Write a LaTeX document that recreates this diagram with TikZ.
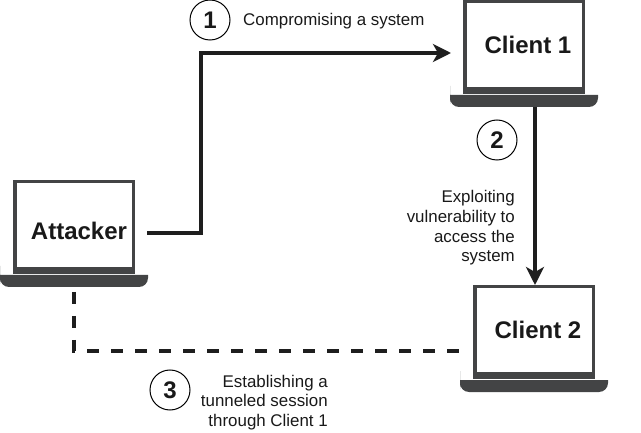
\documentclass[tikz,border=0pt]{standalone}
\usepackage{fontspec}
\setmainfont{Liberation Sans}
\usetikzlibrary{arrows.meta}
\definecolor{lapdark}{HTML}{434445}
\definecolor{wire}{HTML}{1E1E1E}
\tikzset{
  screen/.style={draw=lapdark,line width=3.5pt,fill=white,minimum width=118.5pt,minimum height=87pt,inner sep=0pt,outer sep=0pt},
  lid/.style={fill=lapdark,draw=none,minimum width=122pt,minimum height=6.6pt,inner sep=0pt,outer sep=0pt},
  deckbox/.style={minimum width=148pt,minimum height=12pt,inner sep=0pt,outer sep=0pt},
  title/.style={font=\fontsize{24}{26}\selectfont\bfseries,text=black!90,inner sep=0pt},
  note/.style={font=\fontsize{16.9}{19.6}\selectfont,text=black!90,inner sep=0pt,align=right},
  badge/.style={draw=black,line width=1pt,circle,minimum size=40pt,inner sep=0pt,fill=white,font=\fontsize{24}{26}\selectfont\bfseries,text=black!90},
  link/.style={draw=wire,line width=3.2pt},
  tip/.style={-{Stealth[length=18pt,width=18pt,inset=5pt]}},
  broken/.style={link,dash pattern=on 12pt off 12pt}
}
\newcommand{\laptop}[3]{%
  % #1 name, #2 x centre, #3 y centre of screen
  \node[lid] (#1lid) at (#2,#3+43) {};
  \node[screen] (#1) at (#2,#3-2.75) {};
  \node[deckbox] (#1base) at (#2,#3+53) {};
  \fill[lapdark] (#1base.north west) -- (#1base.north east)
     [rounded corners=9pt] -- (#1base.south east) -- (#1base.south west)
     -- (#1base.north west) [sharp corners] -- cycle;
}
\begin{document}
\begin{tikzpicture}[x=1pt,y=-1pt]
\useasboundingbox (0,0) rectangle (641,433);
\laptop{attacker}{74}{228}
\laptop{clientone}{524}{48}
\laptop{clienttwo}{534}{333}
\node[title] (tatt) at (79,231) {Attacker};
\node[title] (tc1) at (528,45) {Client 1};
\node[title] (tc2) at (538,330) {Client 2};
\coordinate (aout) at (147,233);
\coordinate (bend1) at (201,233);
\coordinate (bend2) at (201,53);
\coordinate (c1in) at (451,53);
\draw[link,tip] (aout) -- (bend1) -- (bend2) -- (c1in);
\coordinate (c2in) at (535,285);
\draw[link,tip] (clientonebase.south -| c2in) -- (c2in);
\coordinate (adown) at (74,292);
\coordinate (acorner) at (74,351);
\coordinate (c2left) at (461,351);
\draw[broken] (adown) -- (acorner) -- (c2left);
\node[badge] (b1) at (210,20) {1};
\node[badge] (b2) at (497,140) {2};
\node[badge] (b3) at (170,390) {3};
\node[note,anchor=west] (n1) at (243,21) {Compromising a system};
\node[note,anchor=east] (n2) at (515,228) {Exploiting\\vulnerability to\\access the\\system};
\node[note,anchor=east] (n3) at (328,402.5) {Establishing a\\tunneled session\\through Client 1};
\end{tikzpicture}
\end{document}
